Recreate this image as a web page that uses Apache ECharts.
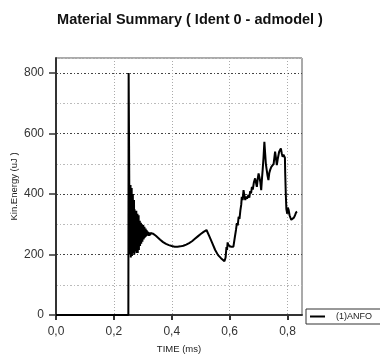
<!DOCTYPE html>
<html>
<head>
<meta charset="utf-8">
<script src="https://cdn.jsdelivr.net/npm/echarts@6/dist/echarts.min.js"></script>
<style>
html,body{margin:0;padding:0;background:#fff;}
#chart{width:380px;height:356px;}
</style>
</head>
<body>
<div id="chart"></div>
<script>
var titleText = 'Material Summary ( Ident 0 - admodel )';
var xName = 'TIME (ms)';
var yName = 'Kin.Energy (uJ )';
var seriesName = '(1)ANFO';

var timeMs = [
  0, 0.2500, 0.2510, 0.2525, 0.2535, 0.2545, 0.2555, 0.2565, 0.2575, 0.2585,
  0.2595, 0.2605, 0.2615, 0.2625, 0.2635, 0.2645, 0.2655, 0.2665, 0.2675, 0.2685,
  0.2695, 0.2705, 0.2715, 0.2725, 0.2735, 0.2745, 0.2755, 0.2765, 0.2775, 0.2785,
  0.2795, 0.2805, 0.2815, 0.2825, 0.2835, 0.2845, 0.2855, 0.2865, 0.2875, 0.2885,
  0.2895, 0.2905, 0.2915, 0.2925, 0.2935, 0.2945, 0.2955, 0.2965, 0.2975, 0.2985,
  0.2995, 0.3005, 0.3015, 0.3025, 0.3035, 0.3045, 0.3055, 0.3065, 0.3075, 0.3085,
  0.3095, 0.3105, 0.3115, 0.3125, 0.3135, 0.3145, 0.3155, 0.3165, 0.3175, 0.3185,
  0.3195, 0.3210, 0.3230, 0.3250, 0.3270, 0.3290, 0.3310, 0.3330, 0.3350, 0.3370,
  0.345, 0.350, 0.360, 0.370, 0.380, 0.390, 0.400, 0.410, 0.420, 0.430,
  0.440, 0.450, 0.460, 0.470, 0.480, 0.490, 0.500, 0.510, 0.520, 0.530,
  0.540, 0.550, 0.560, 0.570, 0.575, 0.582, 0.586, 0.589, 0.591, 0.593,
  0.596, 0.600, 0.604, 0.608, 0.613, 0.618, 0.622, 0.625, 0.628, 0.631,
  0.634, 0.637, 0.640, 0.642, 0.645, 0.648, 0.651, 0.654, 0.657, 0.660,
  0.665, 0.668, 0.671, 0.674, 0.677, 0.680, 0.684, 0.688, 0.691, 0.694,
  0.697, 0.700, 0.703, 0.706, 0.709, 0.712, 0.714, 0.717, 0.720, 0.723,
  0.725, 0.728, 0.731, 0.734, 0.737, 0.740, 0.744, 0.748, 0.752, 0.755,
  0.757, 0.760, 0.763, 0.766, 0.769, 0.771, 0.774, 0.777, 0.780, 0.783,
  0.786, 0.789, 0.791, 0.792, 0.794, 0.796, 0.799, 0.801, 0.804, 0.807,
  0.810, 0.813, 0.816, 0.819, 0.822, 0.826, 0.830, 0.833
];
var kinEnergy = [
  0, 0, 800, 560, 380, 220, 400, 200, 430, 190,
  410, 210, 420, 195, 390, 215, 400, 205, 370, 220,
  380, 200, 350, 215, 340, 210, 330, 225, 345, 205,
  320, 220, 335, 205, 315, 225, 330, 215, 305, 230,
  312, 228, 302, 240, 305, 236, 296, 245, 300, 242,
  292, 250, 298, 250, 290, 254, 292, 256, 286, 258,
  286, 260, 282, 262, 280, 262, 277, 262, 275, 262,
  274, 262, 272, 264, 271, 265, 270, 266, 269, 268,
  262, 258, 249, 241, 235, 231, 228, 226, 226, 227,
  229, 233, 238, 244, 252, 260, 268, 275, 281, 260,
  238, 215, 198, 188, 183, 178, 190, 225, 215, 240,
  230, 236, 226, 232, 226, 258, 282, 304, 296, 325,
  318, 345, 365, 391, 380, 413, 395, 380, 392, 385,
  397, 388, 410, 402, 424, 415, 440, 452, 438, 424,
  450, 468, 455, 440, 413, 455, 479, 520, 573, 530,
  501, 480, 460, 446, 470, 480, 490, 485, 500, 505,
  540, 520, 496, 515, 530, 540, 545, 551, 535, 523,
  530, 535, 520, 468, 400, 350, 335, 355, 347, 330,
  322, 315, 312, 318, 322, 330, 340, 342
];

var xMin = 0, xMax = 0.85, xStep = 0.2;
var yMin = 0, yMax = 850, yStep = 200, yMinorStep = 100;

var points = timeMs.map(function (t, i) { return [t, kinEnergy[i]]; });

var chart = echarts.init(document.getElementById('chart'), null, {renderer: 'canvas'});
var font = 'Liberation Sans, Arial, sans-serif';
chart.setOption({
  animation: false,
  backgroundColor: '#fff',
  textStyle: {fontFamily: font},
  title: {
    text: titleText,
    left: 'center',
    top: 7,
    textStyle: {fontFamily: font, fontSize: 14.5, fontWeight: 'bold', color: '#111'}
  },
  legend: {
    data: [{name: seriesName, icon: 'rect'}],
    left: 306,
    top: 309,
    orient: 'vertical',
    itemWidth: 15,
    itemHeight: 2,
    itemGap: 0,
    padding: [3, 24, 3, 4],
    borderColor: '#333',
    borderWidth: 1,
    textStyle: {fontFamily: font, fontSize: 9, color: '#222', padding: [0, 0, 0, 6]}
  },
  grid: {
    left: 56, right: 78, top: 58, bottom: 41,
    containLabel: false,
    outerBoundsMode: 'none',
    show: true, borderColor: '#555', borderWidth: 1, backgroundColor: 'transparent'
  },
  xAxis: [{
    type: 'value', min: xMin, max: xMax, interval: xStep,
    name: xName, nameLocation: 'middle', nameGap: 29, nameMoveOverlap: false,
    nameTextStyle: {fontFamily: font, fontSize: 9.5, color: '#222'},
    axisLine: {show: true, onZero: false, lineStyle: {color: '#333', width: 2}},
    axisTick: {show: true, inside: false, length: 5, lineStyle: {color: '#333', width: 2}},
    axisLabel: {
      margin: 11, fontSize: 12, color: '#333', fontFamily: font, showMaxLabel: false,
      formatter: function (v) { return v.toFixed(1).replace('.', ','); }
    },
    splitLine: {show: true, lineStyle: {color: '#aaa', type: [1, 2], width: 1}}
  }],
  yAxis: [{
    type: 'value', min: yMin, max: yMax, interval: yStep,
    name: yName, nameLocation: 'middle', nameGap: 37, nameRotate: 90, nameMoveOverlap: false,
    nameTextStyle: {fontFamily: font, fontSize: 9.5, color: '#222'},
    axisLine: {show: true, onZero: false, lineStyle: {color: '#333', width: 2}},
    axisTick: {show: true, inside: false, length: 7, lineStyle: {color: '#333', width: 1.5}},
    axisLabel: {margin: 12, fontSize: 12, color: '#333', fontFamily: font, showMaxLabel: false},
    splitLine: {show: false}
  }, {
    type: 'value', min: yMin, max: yMax, interval: yMinorStep, position: 'left',
    axisLine: {show: false}, axisTick: {show: false}, axisLabel: {show: false},
    splitLine: {show: true, lineStyle: {color: ['#444', '#bbb'], type: [2, 2, 1, 2], width: 1}}
  }],
  series: [{
    name: seriesName,
    type: 'line',
    xAxisIndex: 0,
    yAxisIndex: 0,
    data: points,
    showSymbol: false,
    symbol: 'none',
    lineStyle: {color: '#000', width: 2},
    itemStyle: {color: '#000'}
  }]
});
</script>
</body>
</html>
